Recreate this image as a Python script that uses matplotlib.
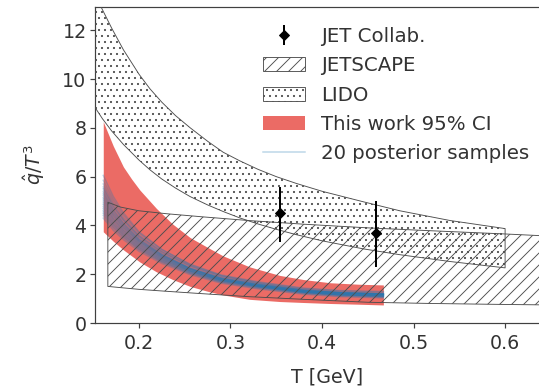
import matplotlib
# Headless backend, we only write a PNG.
matplotlib.use('Agg')
import matplotlib.pyplot as plt
from matplotlib.patches import Patch
from matplotlib.lines import Line2D

# --- values ----------------------------------------------------------------

# LIDO band (dotted)
lido_T = [0.15, 0.16, 0.17, 0.183, 0.2, 0.212, 0.225, 0.24, 0.256, 0.275,
          0.292, 0.31, 0.33, 0.35, 0.372, 0.4, 0.445, 0.485, 0.54, 0.6]
lido_hi = [13.6, 12.85, 12.1, 11.2, 10.2, 9.6, 9.05, 8.5, 8.0, 7.45,
           7.0, 6.65, 6.3, 6.0, 5.72, 5.4, 4.97, 4.6, 4.2, 3.87]
lido_lo = [8.95, 8.38, 7.88, 7.32, 6.68, 6.28, 5.9, 5.53, 5.18, 4.84,
           4.57, 4.31, 4.06, 3.84, 3.62, 3.37, 3.04, 2.8, 2.52, 2.26]

# JETSCAPE band (hatched)
jetscape_T = [0.166, 0.18, 0.2, 0.23, 0.27, 0.32, 0.38, 0.45, 0.52, 0.6, 0.7]
jetscape_hi = [4.95, 4.75, 4.6, 4.48, 4.35, 4.2, 4.05, 3.9, 3.78, 3.65, 3.47]
jetscape_lo = [1.5, 1.45, 1.38, 1.3, 1.2, 1.08, 0.97, 0.85, 0.8, 0.76, 0.72]

# This work, 95% credible interval
ci_T = [0.161, 0.172, 0.183, 0.192, 0.201, 0.219, 0.237, 0.256, 0.275, 0.292,
        0.321, 0.354, 0.38, 0.409, 0.44, 0.467]
ci_hi = [8.25, 7.25, 6.4, 5.9, 5.45, 4.7, 4.05, 3.5, 3.1, 2.75,
         2.3, 1.95, 1.78, 1.65, 1.59, 1.56]
ci_lo = [3.74, 3.35, 3.0, 2.75, 2.5, 2.1, 1.78, 1.5, 1.3, 1.15,
         0.97, 0.88, 0.84, 0.8, 0.77, 0.74]

# 20 posterior samples
sample_T = [0.161, 0.172, 0.183, 0.2, 0.225, 0.256, 0.29, 0.33, 0.38, 0.42, 0.467]
samples = [
    [6.05, 5.18, 4.52, 3.74, 3.02, 2.39, 1.94, 1.64, 1.37, 1.26, 1.20],
    [5.85, 5.05, 4.43, 3.69, 3.00, 2.41, 1.97, 1.69, 1.43, 1.33, 1.29],
    [5.70, 4.92, 4.32, 3.60, 2.93, 2.33, 1.89, 1.61, 1.35, 1.24, 1.18],
    [5.58, 4.81, 4.23, 3.52, 2.85, 2.26, 1.84, 1.56, 1.31, 1.21, 1.16],
    [5.50, 4.76, 4.22, 3.56, 2.91, 2.34, 1.93, 1.66, 1.41, 1.31, 1.26],
    [5.40, 4.66, 4.11, 3.45, 2.80, 2.22, 1.79, 1.52, 1.27, 1.16, 1.10],
    [5.32, 4.61, 4.08, 3.43, 2.81, 2.24, 1.84, 1.58, 1.34, 1.24, 1.19],
    [5.24, 4.54, 4.02, 3.39, 2.76, 2.20, 1.80, 1.54, 1.29, 1.19, 1.14],
    [5.15, 4.48, 3.98, 3.37, 2.77, 2.23, 1.84, 1.59, 1.35, 1.26, 1.21],
    [5.08, 4.42, 3.92, 3.32, 2.71, 2.16, 1.76, 1.50, 1.26, 1.16, 1.11],
    [5.00, 4.37, 3.89, 3.32, 2.73, 2.21, 1.82, 1.57, 1.33, 1.24, 1.19],
    [4.92, 4.29, 3.82, 3.25, 2.67, 2.14, 1.75, 1.50, 1.26, 1.16, 1.11],
    [4.85, 4.25, 3.79, 3.24, 2.68, 2.17, 1.79, 1.55, 1.32, 1.23, 1.18],
    [4.77, 4.18, 3.73, 3.18, 2.62, 2.11, 1.73, 1.48, 1.25, 1.15, 1.10],
    [4.70, 4.12, 3.69, 3.16, 2.62, 2.13, 1.76, 1.53, 1.31, 1.22, 1.18],
    [4.62, 4.06, 3.63, 3.10, 2.56, 2.07, 1.70, 1.46, 1.23, 1.13, 1.08],
    [4.55, 4.01, 3.60, 3.09, 2.57, 2.10, 1.74, 1.51, 1.29, 1.20, 1.16],
    [4.48, 3.95, 3.54, 3.03, 2.51, 2.03, 1.67, 1.43, 1.21, 1.11, 1.06],
    [4.40, 3.89, 3.50, 3.01, 2.50, 2.04, 1.69, 1.47, 1.26, 1.17, 1.13],
    [4.30, 3.80, 3.42, 2.94, 2.44, 1.98, 1.63, 1.40, 1.18, 1.08, 1.03],
]

# JET Collaboration points
jet_T = [0.354, 0.459]
jet_val = [4.5, 3.69]
jet_err_lo = [1.2, 1.39]
jet_err_hi = [1.07, 1.31]

x_ticks = [0.2, 0.3, 0.4, 0.5, 0.6]
y_ticks = [0, 2, 4, 6, 8, 10, 12]

# --- figure -----------------------------------------------------------------
# dpi 72 so one point is one pixel; keeps hatch spacing close to the original.
plt.rcParams['font.family'] = 'DejaVu Sans'
plt.rcParams['hatch.linewidth'] = 0.9
fig = plt.figure(figsize=(539 / 72, 391 / 72), dpi=72)
# The axes run a bit past the right edge of the picture, as in the reference.
ax = fig.add_axes([0.1763, 0.1739, 0.861, 0.808])

edge = '0.3'
red = '#eb6b65'
ax.fill_between(ci_T, ci_lo, ci_hi, color=red, linewidth=0, zorder=1)
for s in samples:
    ax.plot(sample_T, s, color='tab:blue', alpha=0.3, lw=1.5, zorder=2)
ax.fill_between(jetscape_T, jetscape_lo, jetscape_hi, facecolor='none',
                edgecolor=edge, hatch='//', linewidth=0.9, zorder=3)
ax.fill_between(lido_T, lido_lo, lido_hi, facecolor='none',
                edgecolor=edge, hatch='..', linewidth=0.9, zorder=4)
ax.errorbar(jet_T, jet_val, yerr=[jet_err_lo, jet_err_hi], fmt='D', color='k',
            markersize=7, elinewidth=2, capsize=0, zorder=5)

ax.set_xlim(0.152, 0.659)
ax.set_ylim(0, 12.95)
ax.set_xticks(x_ticks)
ax.set_yticks(y_ticks)
ax.tick_params(labelsize=19, length=5, width=1.2, color='0.25', labelcolor='0.2')
ax.tick_params(axis='x', pad=6)
for side in ax.spines.values():
    side.set_linewidth(1.2)
    side.set_color('0.25')

ax.set_xlabel('T [GeV]', fontsize=19, color='0.2', labelpad=14)
ax.set_ylabel(r'$\hat{q}/T^3$', fontsize=19, color='0.2', labelpad=15)

# Legend, frameless, handles built to match the plotted artists
handles = [
    ax.errorbar([], [], yerr=[], fmt='D', color='k', markersize=7, elinewidth=2),
    Patch(facecolor='none', edgecolor=edge, hatch='//', linewidth=0.9),
    Patch(facecolor='none', edgecolor=edge, hatch='..', linewidth=0.9),
    Patch(facecolor=red, edgecolor='none'),
    Line2D([], [], color='tab:blue', alpha=0.3, lw=1.5),
]
labels = ['JET Collab.', 'JETSCAPE', 'LIDO', 'This work 95% CI', '20 posterior samples']
leg = ax.legend(handles, labels, loc='upper left', bbox_to_anchor=(0.362, 0.937),
                frameon=False, fontsize=19.8, borderpad=0, borderaxespad=0,
                handlelength=2.1, handletextpad=0.85, labelspacing=0.52)
for t in leg.get_texts():
    t.set_color('0.2')

fig.savefig('out.png', dpi=72)
plt.close(fig)
